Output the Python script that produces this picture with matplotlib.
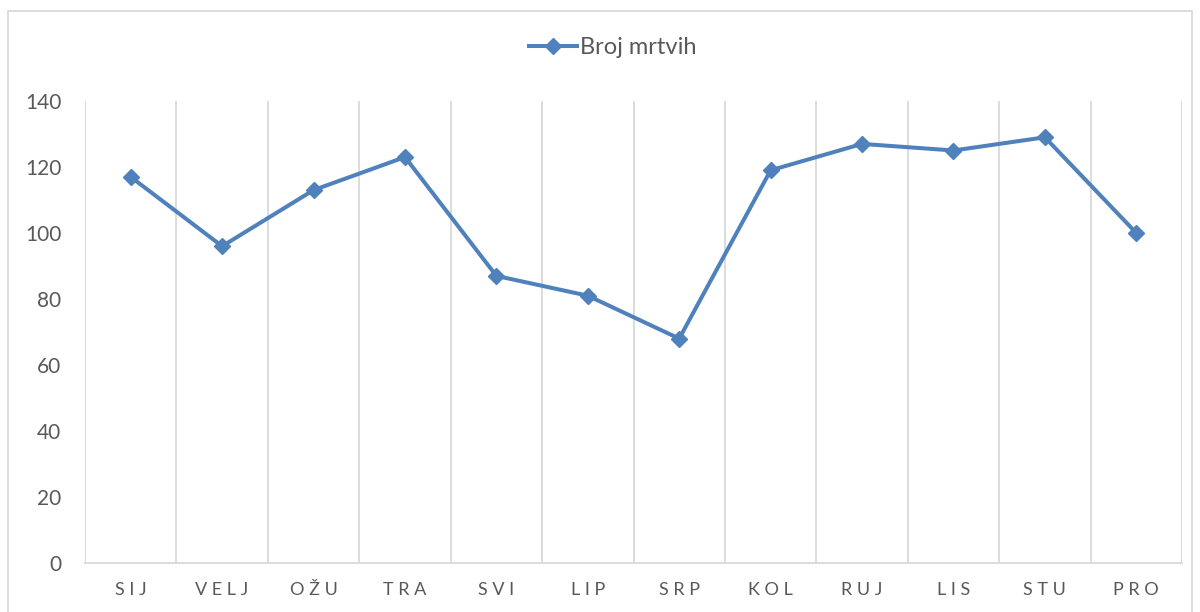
import matplotlib.pyplot as plt
from matplotlib.patches import Rectangle

# podaci: broj mrtvih po mjesecima
months = ["SIJ", "VELJ", "OŽU", "TRA", "SVI", "LIP", "SRP", "KOL", "RUJ", "LIS", "STU", "PRO"]
deaths = [117, 96, 113, 123, 87, 81, 68, 119, 127, 125, 129, 100]
yticks = [0, 20, 40, 60, 80, 100, 120, 140]

plt.rcParams['font.family'] = ['Lato', 'DejaVu Sans']
txt = '#595959'
grid = '#D9D9D9'
blue = '#4F81BD'

fig = plt.figure(figsize=(12, 6.12), dpi=100)
ax = fig.add_axes([85/1200, 1 - 563/612, (1182 - 85)/1200, (563 - 101)/612])

x = list(range(len(months)))
ax.plot(x, deaths, color=blue, lw=2.9, marker='D', markersize=8.5, label='Broj mrtvih')

ax.set_xlim(-0.5, len(months) - 0.5)
ax.set_ylim(0, 140)
ax.set_yticks(yticks)
ax.set_xticks(x)
ax.set_xticklabels([" ".join(m) for m in months], fontsize=13, color=txt)
ax.tick_params(axis='y', labelsize=15, colors=txt, length=0, pad=17)
ax.tick_params(axis='x', length=0, pad=14)

# vertikalne linije između kategorija
for b in range(len(months) + 1):
    ax.axvline(b - 0.5, color=grid, lw=1.3, zorder=0)

for s in ['top', 'right', 'left']:
    ax.spines[s].set_visible(False)
ax.spines['bottom'].set_color(grid)
ax.spines['bottom'].set_linewidth(1.3)

leg = ax.legend(loc='center', bbox_to_anchor=(613/1200, 1 - 48/612), bbox_transform=fig.transFigure,
                frameon=False, fontsize=17, handlelength=2.0, handletextpad=0.15)
for t in leg.get_texts():
    t.set_color(txt)

fig.patches.append(Rectangle((8/1200, -0.01), 1184/1200, 1 - 11/612 + 0.01,
                             transform=fig.transFigure, fill=False, edgecolor=grid, lw=1.3))

fig.savefig("out.png", dpi=100)
